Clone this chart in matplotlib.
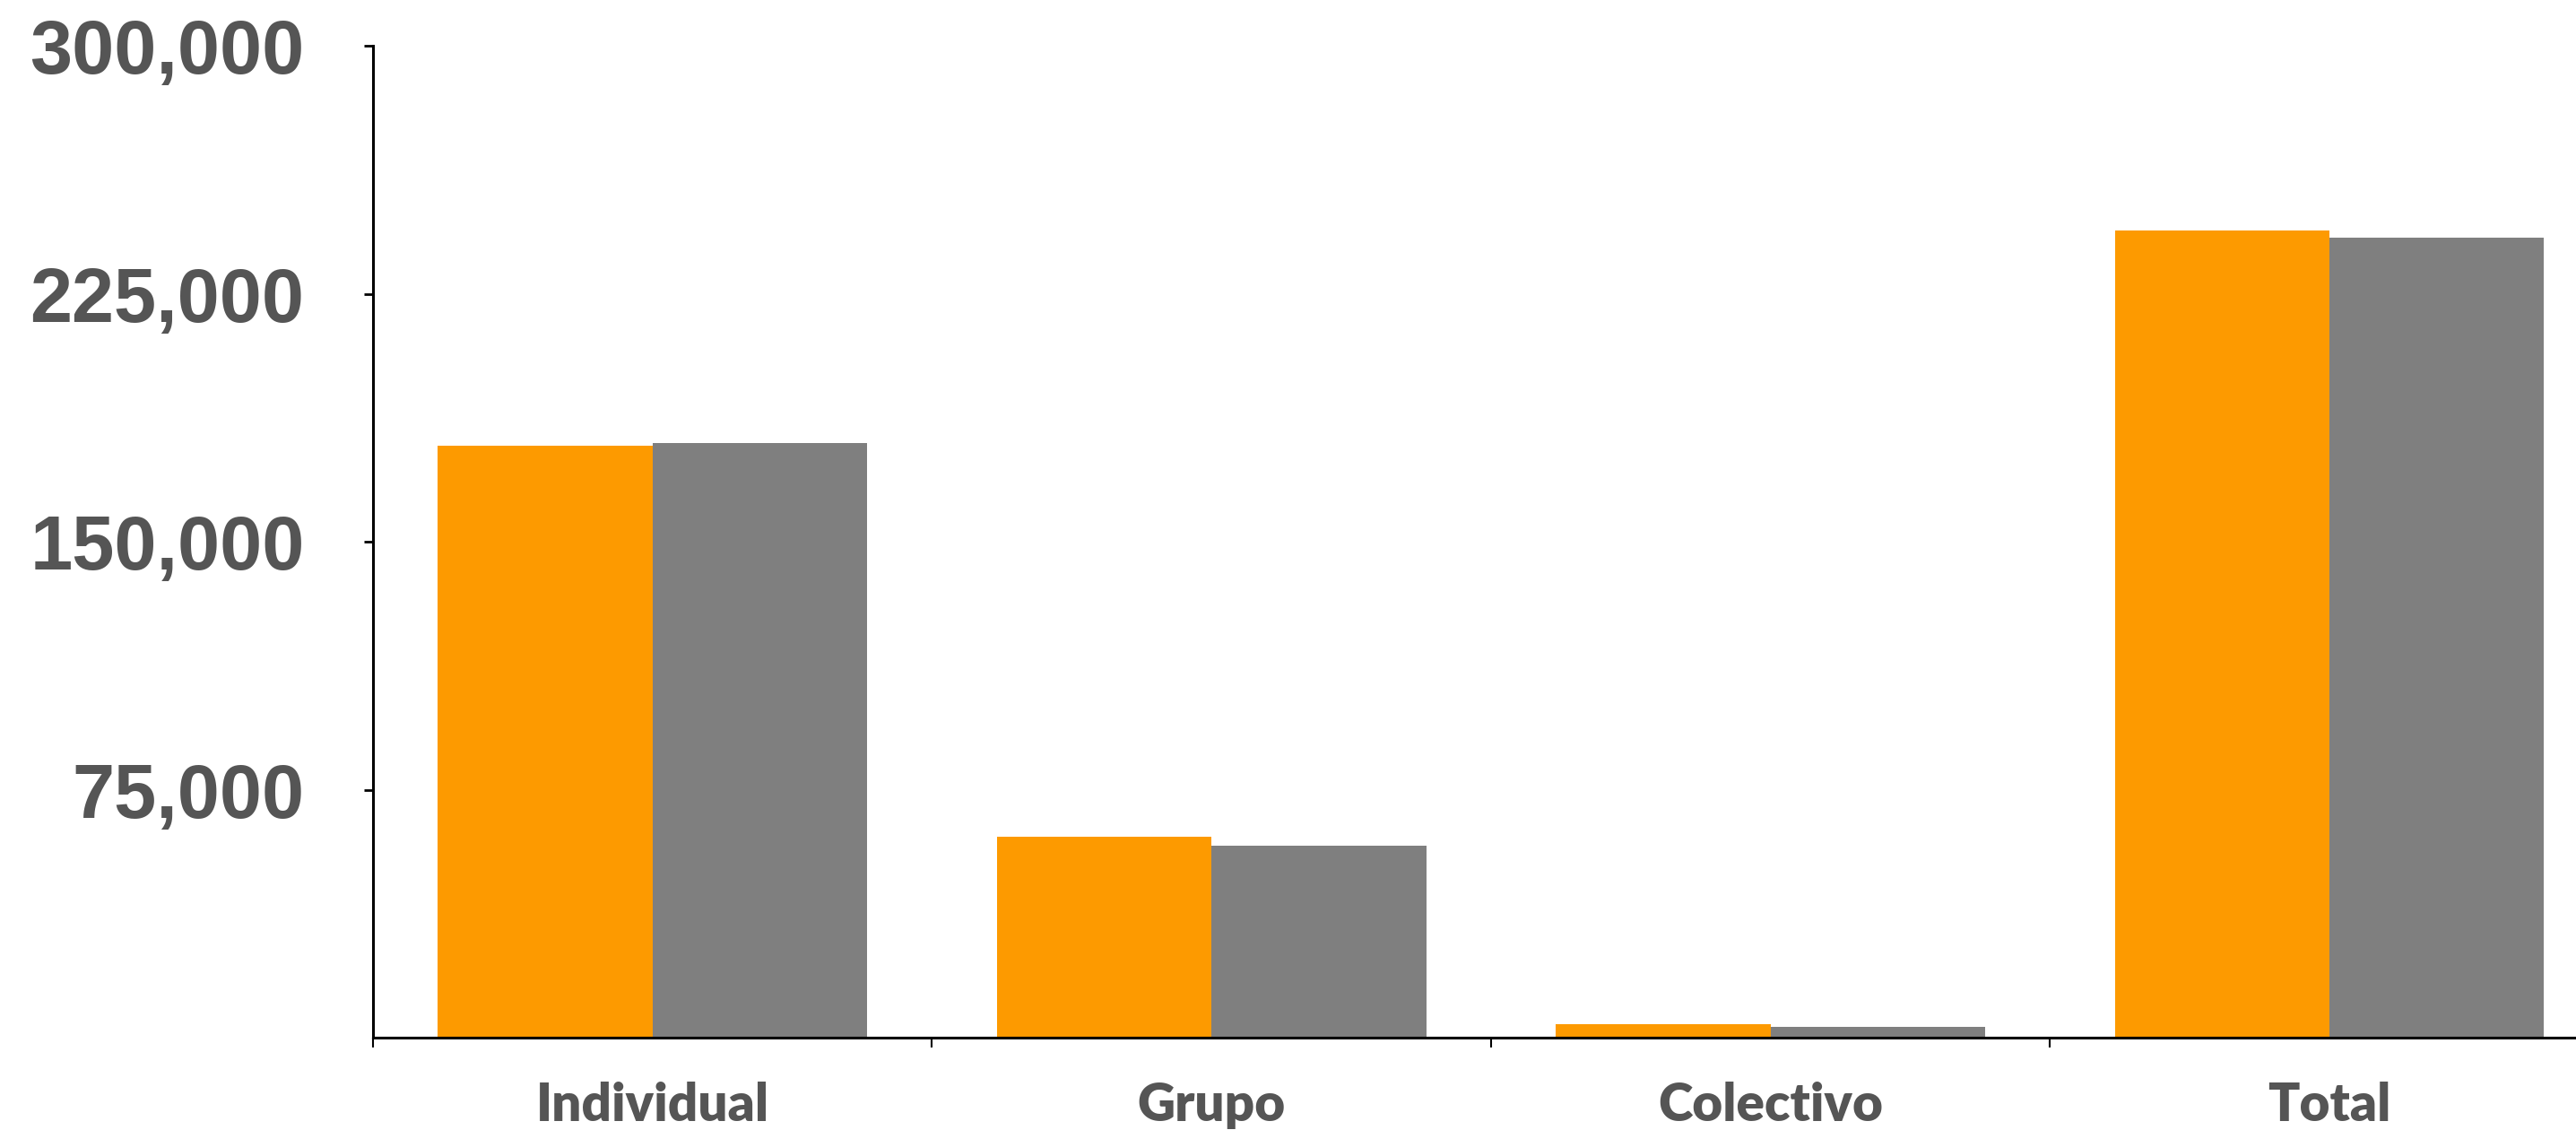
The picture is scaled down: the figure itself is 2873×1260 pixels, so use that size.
import numpy as np
import matplotlib
matplotlib.use("Agg")
import matplotlib.pyplot as plt
from matplotlib.ticker import FuncFormatter

categories = ["Individual", "Grupo", "Colectivo", "Total"]
serie_a = [179000, 60800, 4100, 244100]   # naranja
serie_b = [179800, 58100, 3300, 241900]   # gris
y_ticks = [0, 75000, 150000, 225000, 300000]

naranja = "#FD9A00"
gris = "#7F7F7F"
texto = "#555555"

fig = plt.figure(figsize=(28.73, 12.60), dpi=100)
# axes run past the right edge, as in the cropped original
ax = fig.add_axes([0.1448, 0.0814, 0.868, 0.878])

x = np.arange(len(categories))
w = 0.384
ax.bar(x - w / 2, serie_a, width=w, color=naranja, zorder=2)
ax.bar(x + w / 2, serie_b, width=w, color=gris, zorder=2)

ax.set_xlim(-0.5, len(categories) - 0.5)
ax.set_ylim(0, 300000)
ax.set_yticks(y_ticks[1:])
ax.yaxis.set_major_formatter(FuncFormatter(lambda v, p: f"{int(v):,}"))
ax.set_xticks(np.arange(len(categories) + 1) - 0.5, minor=False)
ax.set_xticklabels([])
ax.set_xticks(x, minor=True)
ax.set_xticklabels(categories, minor=True)

for s in ["top", "right"]:
    ax.spines[s].set_visible(False)
for s in ["left", "bottom"]:
    ax.spines[s].set_linewidth(2.2)
    ax.spines[s].set_color("black")

ax.tick_params(axis="y", direction="out", length=7, width=2, pad=48,
               labelsize=61, labelcolor=texto)
for t in ax.get_yticklabels():
    t.set_fontfamily("Liberation Sans")
    t.set_fontweight("bold")
ax.tick_params(axis="x", which="major", direction="out", length=8, width=1.5)
ax.tick_params(axis="x", which="minor", length=0, pad=35,
               labelsize=42, labelcolor=texto)
for t in ax.get_xticklabels(minor=True):
    t.set_fontfamily("Lato")
    t.set_fontweight("heavy")

fig.savefig("out.png", dpi=100, facecolor="white")
